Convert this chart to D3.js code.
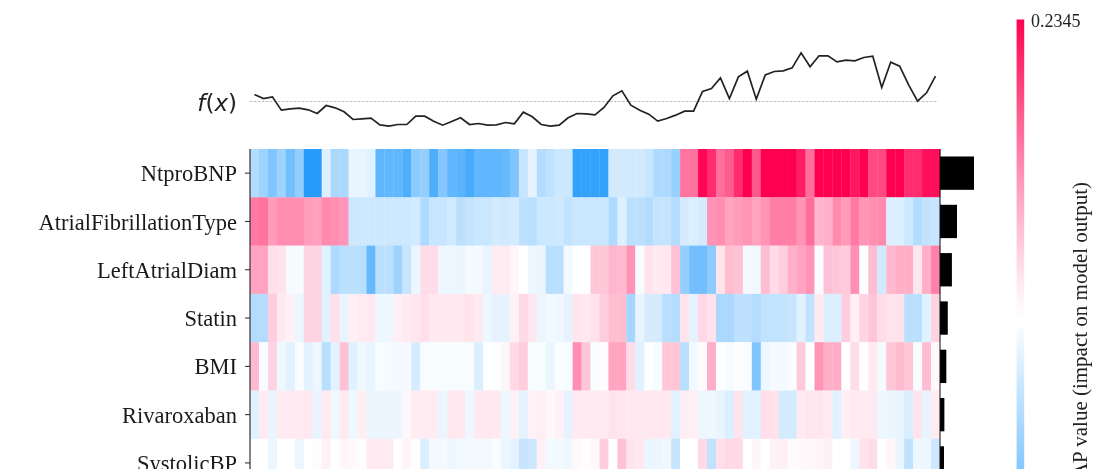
<!DOCTYPE html>
<html>
<head>
<meta charset="utf-8">
<script src="https://cdn.jsdelivr.net/npm/d3@7"></script>
<style>
html,body{margin:0;padding:0;background:#fff;overflow:hidden}
svg{display:block;filter:blur(0.6px)}
</style>
</head>
<body>
<svg id="chart" width="1104" height="469"></svg>
<script>
const features = ["NtproBNP","AtrialFibrillationType","LeftAtrialDiam","Statin","BMI","Rivaroxaban","SystolicBP"];
const vmaxLabel = "0.2345";
const axisLabel = "SHAP value (impact on model output)";
// mean |SHAP| per feature
const meanAbs = [0.14,0.07,0.049,0.032,0.026,0.018,0.0165];
// f(x) per instance, relative to the base value (arbitrary milli-units)
const fx = [21,9,14,-26,-22,-20,-25,-36,-12,-19,
-31,-54,-52,-50,-70,-74,-69,-69,-44,-44,
-59,-71,-60,-49,-69,-66,-71,-70,-63,-67,
-32,-46,-69,-74,-71,-49,-36,-37,-40,-18,
17,32,-11,-26,-38,-59,-51,-41,-29,-29,
30,39,71,9,74,91,7,80,90,92,
101,146,104,137,137,119,124,122,132,136,
42,118,106,50,1,26,76];
// SHAP values per instance, in percent of vmax
const ntproBNP = [-30,-38,-50,-38,-55,-42,-85,-85,-13,-33,
-33,-9,-9,-12,-62,-62,-62,-70,-45,-42,
-70,-48,-62,-64,-72,-62,-62,-62,-60,-50,
-22,-10,-30,-25,-20,-20,-80,-80,-80,-80,
-18,-18,-18,-18,-22,-32,-32,-40,60,60,
98,85,62,68,85,100,70,100,100,100,
100,90,62,100,100,100,100,92,100,75,
75,100,100,85,85,95,95];
const afType = [58,60,45,50,50,50,45,43,52,50,
47,-20,-20,-20,-20,-20,-20,-20,-18,-32,
-22,-22,-19,-27,-23,-21,-21,-17,-19,-17,
-26,-28,-20,-20,-19,-24,-21,-21,-21,-21,
-32,-13,-27,-27,-30,-23,-23,-30,-16,-14,
-17,48,50,42,45,47,42,48,56,56,
56,48,62,35,37,52,45,58,48,50,
52,-14,-14,-20,-30,-24,-22];
const leftAtrialDiam = [42,42,17,15,-4,-3,22,22,-12,-32,
-27,-27,-28,-60,-27,-27,-38,-22,-8,18,
18,-7,-7,-8,-4,-5,-9,11,12,6,
0,-7,-8,-28,-28,-5,0,0,28,28,
35,33,48,-3,15,12,13,30,-42,-55,
-55,-45,15,32,30,-4,-6,32,18,25,
37,42,48,-2,30,28,26,50,0,32,
-18,34,38,38,14,38,55];
const statin = [-30,-30,25,12,8,-8,22,22,-12,17,
-9,10,12,13,-7,-7,10,12,14,17,
13,13,13,13,15,12,-7,-10,-10,8,
20,14,-8,-5,-6,-10,14,13,16,25,
32,32,-35,-9,-16,-17,-28,-30,15,-10,
20,16,-33,-33,-26,-26,-30,-24,-24,-24,
-22,-12,-24,12,-14,-14,25,10,22,28,
18,16,16,-27,-27,-12,22];
const bmi = [33,-3,22,-6,-12,-2,-11,-7,-28,-11,
30,-12,-6,-9,-3,-4,-5,-4,-16,-3,
-3,-3,-3,-3,-3,-14,-1,-1,6,20,
25,-3,-3,-8,-2,-3,50,28,-2,2,
42,42,18,-12,-1,-3,28,28,-28,-5,
3,38,-1,-3,-1,-2,-50,-7,-4,-4,
-2,27,-1,48,38,38,0,18,1,12,
-4,28,33,28,-3,32,5];
const rivaroxaban = [-12,12,-9,12,12,12,13,-9,12,-6,
13,-6,10,-8,-8,-8,-8,6,11,11,
11,-8,13,13,-6,12,13,12,-7,8,
-10,8,10,5,8,-10,12,12,12,12,
16,14,13,13,13,13,13,-12,10,9,
-7,-6,-9,-14,15,-12,-12,17,16,-17,
-17,12,14,14,12,-12,10,12,12,12,
-7,-8,-9,-15,15,-9,11];
const systolicBP = [0,0,-8,0,0,-8,1,2,8,-1,
6,4,2,12,12,12,0,7,1,-14,
-5,-5,-7,-5,-5,-5,-5,-2,-8,-10,
-22,-20,8,-5,-5,-6,5,2,5,25,
0,30,15,13,-8,-8,-6,-22,0,-1,
20,-25,17,20,20,0,6,0,8,9,
3,4,5,7,9,0,0,-7,16,18,
0,6,-8,-25,-6,-7,-20];
const rows = [ntproBNP,afType,leftAtrialDiam,statin,bmi,rivaroxaban,systolicBP];

const svg = d3.select("#chart");
const serif = "'Liberation Serif','Times New Roman',serif";
const instances = d3.range(fx.length);

const x = d3.scaleBand().domain(instances).range([250,940]);
const y = d3.scaleBand().domain(features).range([149,149+48.3*features.length]);
const redSide = d3.scalePow().exponent(1.18).domain([0,100])
  .range(["#ffffff","rgb(255,0,81)"]).clamp(true);
const blueSide = d3.scaleLinear().domain([0,-100])
  .range(["#ffffff","rgb(0,139,251)"]).clamp(true);
const color = v => v >= 0 ? redSide(v) : blueSide(v);

// heat cells
const rowG = svg.append("g").selectAll("g").data(rows).join("g")
  .attr("transform",(d,i)=>`translate(0,${y(features[i])})`);
rowG.selectAll("rect").data(d=>d).join("rect")
  .attr("x",(d,i)=>x(i)).attr("y",0)
  .attr("width",x.bandwidth()+0.3).attr("height",y.bandwidth()+0.3)
  .attr("fill",d=>color(d));

// f(x) panel
const fy = d3.scaleLinear().domain([0,150]).range([101.5,51.5]);
svg.append("line").attr("x1",250).attr("x2",938)
  .attr("y1",fy(0)).attr("y2",fy(0))
  .attr("stroke","#aaa").attr("stroke-width",0.8).attr("stroke-dasharray","2.5,1.5");
svg.append("path").datum(fx)
  .attr("fill","none").attr("stroke","#222").attr("stroke-width",1.7)
  .attr("d",d3.line().x((d,i)=>x(i)+x.bandwidth()/2).y(d=>fy(d)));
svg.append("text").attr("x",237).attr("y",111)
  .attr("text-anchor","end").attr("font-family","'DejaVu Sans',sans-serif")
  .attr("font-size",23).attr("font-style","italic").attr("fill","#222")
  .html('f<tspan font-style="normal">(</tspan>x<tspan font-style="normal">)</tspan>');

// left axis
const leftAxis = svg.append("g").attr("transform","translate(250,0)")
  .call(d3.axisLeft(y).tickSize(5).tickPadding(8));
leftAxis.select(".domain").attr("stroke","#333").attr("stroke-width",1.2)
  .attr("d","M0,149V469");
leftAxis.selectAll(".tick line").attr("stroke","#222").attr("stroke-width",1);
leftAxis.selectAll(".tick text").attr("font-family",serif).attr("font-size",22.5)
  .attr("fill","#1a1a1a").attr("dy","0.36em");

// mean |SHAP| bars
const bx = d3.scaleLinear().domain([0,0.14]).range([940,974]);
svg.append("g").selectAll("rect").data(meanAbs).join("rect")
  .attr("x",bx(0)).attr("width",d=>bx(d)-bx(0))
  .attr("y",(d,i)=>y(features[i])+y.bandwidth()*0.155)
  .attr("height",y.bandwidth()*0.69).attr("fill","#000");
svg.append("line").attr("x1",940).attr("x2",940).attr("y1",149).attr("y2",469)
  .attr("stroke","#111").attr("stroke-width",1);

// colour bar
const cy = d3.scaleLinear().domain([100,-100]).range([19.5,625]);
const defs = svg.append("defs");
const grad = defs.append("linearGradient").attr("id","cbar")
  .attr("x1",0).attr("x2",0).attr("y1",0).attr("y2",1);
grad.selectAll("stop").data(d3.ticks(100,-100,40)).join("stop")
  .attr("offset",d=>(cy(d)-cy(100))/(cy(-100)-cy(100)))
  .attr("stop-color",d=>color(d));
svg.append("rect").attr("x",1016.6).attr("width",7.6)
  .attr("y",cy(100)).attr("height",cy(-100)-cy(100)).attr("fill","url(#cbar)");
svg.append("text").attr("x",1031).attr("y",27)
  .attr("font-family",serif).attr("font-size",18).attr("fill","#222").text(vmaxLabel);
svg.append("text").attr("transform","translate(1087,182) rotate(-90)")
  .attr("text-anchor","end").attr("font-family",serif).attr("font-size",21)
  .attr("fill","#222").text(axisLabel);
</script>
</body>
</html>
